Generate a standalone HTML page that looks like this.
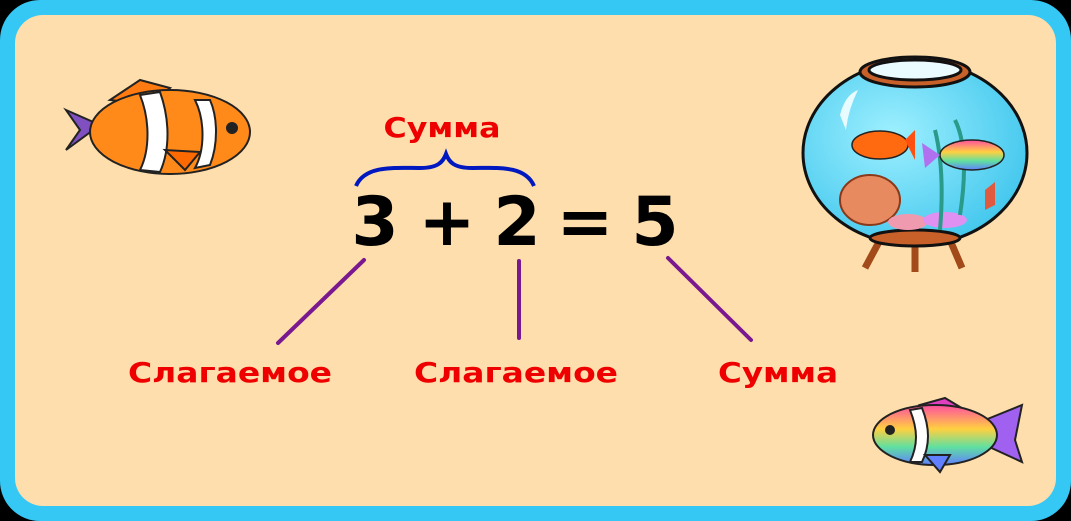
<!DOCTYPE html>
<html><head><meta charset="utf-8"><style>
html,body{margin:0;padding:0;background:#000;width:1071px;height:521px;overflow:hidden}
</style></head><body>
<svg width="1071" height="521" viewBox="0 0 1071 521" xmlns="http://www.w3.org/2000/svg">
<defs>
<linearGradient id="rb" x1="0" y1="0" x2="0" y2="1">
<stop offset="0" stop-color="#ff4fa0"/><stop offset="0.4" stop-color="#ffd040"/><stop offset="0.7" stop-color="#60e0a0"/><stop offset="1" stop-color="#6080ff"/></linearGradient>
<radialGradient id="wt" cx="0.4" cy="0.4" r="0.7"><stop offset="0" stop-color="#9ef0ff"/><stop offset="1" stop-color="#3cc4ec"/></radialGradient>
</defs>
<rect x="0" y="0" width="1071" height="521" rx="40" fill="#35c8f5"/>
<rect x="15" y="15" width="1041" height="491" rx="28" fill="#fddeac"/>

<!-- brace -->
<path d="M356,186 C365,165 395,168 420,168 C438,168 443,162 446,154 C449,162 454,168 472,168 C497,168 525,165 534,186" fill="none" stroke="#0018c0" stroke-width="4"/>
<text x="442" y="137" font-family="DejaVu Sans, Verdana, sans-serif" font-weight="bold" font-size="28" fill="#ee0000" text-anchor="middle" textLength="117" lengthAdjust="spacingAndGlyphs">Сумма</text>

<g font-family="DejaVu Sans, Verdana, sans-serif" font-weight="bold" font-size="68" fill="#000" text-anchor="middle">
<text x="375" y="245">3</text><text x="447" y="245">+</text><text x="517" y="245">2</text><text x="585" y="245">=</text><text x="655" y="245">5</text>
</g>

<g stroke="#7a1890" stroke-width="4" stroke-linecap="round">
<line x1="364" y1="260" x2="278" y2="343"/>
<line x1="519" y1="261" x2="519" y2="338"/>
<line x1="668" y1="258" x2="751" y2="340"/>
</g>
<g font-family="DejaVu Sans, Verdana, sans-serif" font-weight="bold" font-size="28" fill="#ee0000">
<text x="128" y="382" textLength="204" lengthAdjust="spacingAndGlyphs">Слагаемое</text>
<text x="414" y="382" textLength="204" lengthAdjust="spacingAndGlyphs">Слагаемое</text>
<text x="718" y="382" textLength="120" lengthAdjust="spacingAndGlyphs">Сумма</text>
</g>

<!-- orange fish -->
<g stroke="#222" stroke-width="2">
<path d="M110,100 L140,80 L170,88 L150,105 Z" fill="#ff7a10"/>
<path d="M66,110 L100,125 L66,150 L80,130 Z" fill="#8050c0"/>
<ellipse cx="170" cy="132" rx="80" ry="42" fill="#ff8a1a"/>
<path d="M140,95 C150,120 150,150 140,170 L160,172 C170,150 170,120 160,92 Z" fill="#fff"/>
<path d="M195,100 C205,120 205,150 195,168 L210,165 C218,145 218,118 210,100 Z" fill="#fff"/>
<circle cx="232" cy="128" r="5" fill="#222"/>
<path d="M165,150 L185,170 L200,152 Z" fill="#ff6a00"/>
</g>

<!-- bowl -->
<g stroke="#111" stroke-width="3">
<path d="M880,240 L865,268 M950,240 L962,268 M915,245 L915,272" stroke="#a24a1a" stroke-width="7"/>
<ellipse cx="915" cy="153" rx="112" ry="92" fill="url(#wt)"/>
<ellipse cx="915" cy="238" rx="45" ry="8" fill="#c8602a"/>
<ellipse cx="915" cy="72" rx="55" ry="15" fill="#c8602a"/>
<ellipse cx="915" cy="70" rx="46" ry="10" fill="#eafcff"/>
</g>
<path d="M840,115 Q845,95 858,90 Q848,110 846,130 Z" fill="#e8fbff"/>
<ellipse cx="870" cy="200" rx="30" ry="25" fill="#e88a60" stroke="#8a3a1a" stroke-width="2"/>
<ellipse cx="908" cy="222" rx="20" ry="8" fill="#f09ab0"/>
<ellipse cx="945" cy="220" rx="22" ry="8" fill="#e090f0"/>
<path d="M940,230 Q945,170 935,130 M960,215 Q970,150 955,120" stroke="#2a9a8a" stroke-width="4" fill="none"/>
<ellipse cx="880" cy="145" rx="28" ry="14" fill="#ff6a10" stroke="#222" stroke-width="1.5"/>
<path d="M905,140 L915,130 L915,160 Z" fill="#ff5010"/>
<ellipse cx="972" cy="155" rx="32" ry="15" fill="url(#rb)" stroke="#222" stroke-width="1.5"/>
<path d="M940,155 L922,143 L925,168 Z" fill="#b070f0"/>
<path d="M985,190 L995,182 L995,205 L985,210 Z" fill="#e05a40"/>

<!-- rainbow fish -->
<g stroke="#222" stroke-width="2">
<path d="M920,405 L945,398 L965,410 L940,418 Z" fill="#e040c0"/>
<path d="M985,420 L1022,405 L1015,440 L1022,462 L985,445 Z" fill="#a060f0"/>
<ellipse cx="935" cy="435" rx="62" ry="30" fill="url(#rb)"/>
<path d="M910,410 C918,430 918,445 910,462 L922,462 C930,445 930,428 922,408 Z" fill="#fff"/>
<circle cx="890" cy="430" r="4" fill="#222"/>
<path d="M925,455 L940,472 L950,455 Z" fill="#6080ff"/>
</g>
</svg>
</body></html>
